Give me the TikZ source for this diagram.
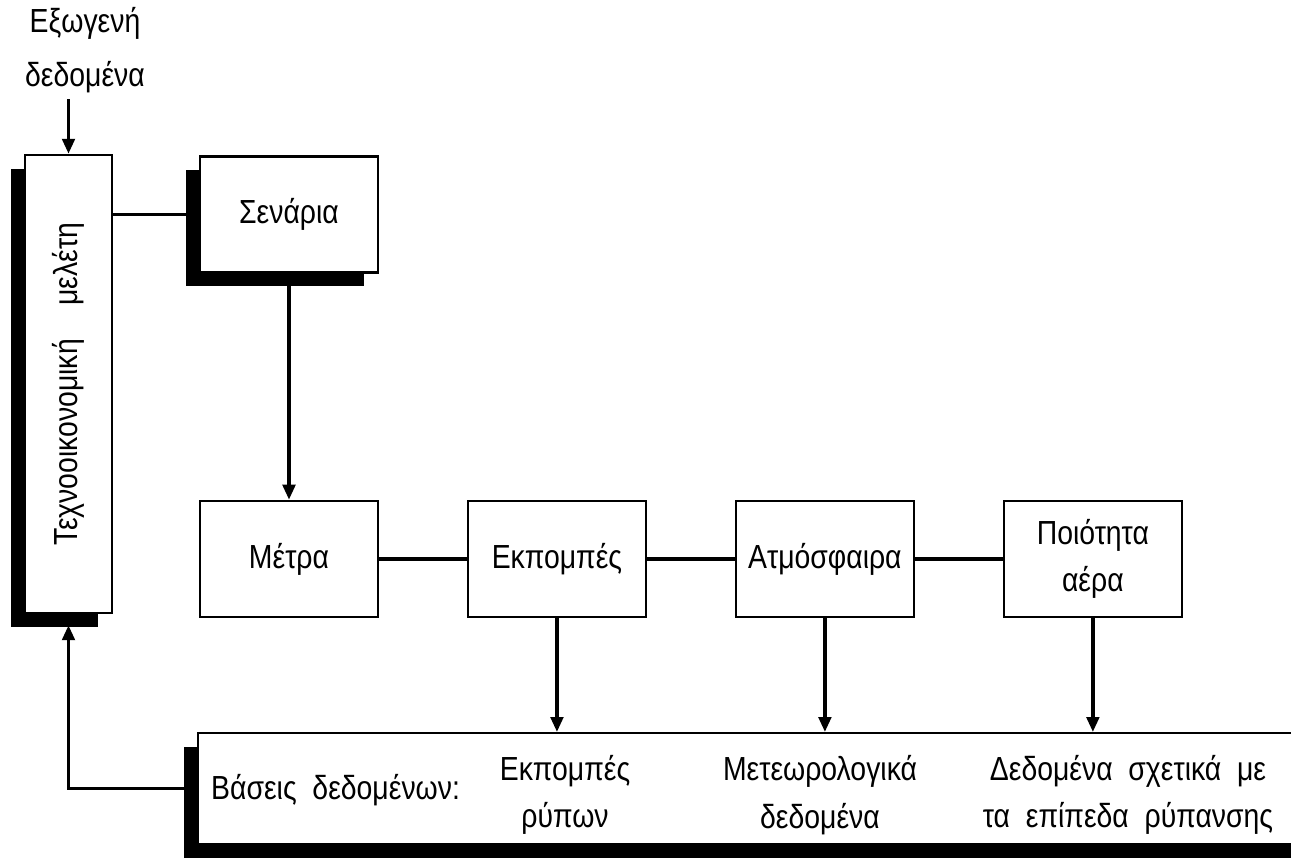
\documentclass[tikz,border=0pt]{standalone}
\usepackage{fontspec}
\setmainfont{Liberation Sans}[FakeStretch=0.85]
\usetikzlibrary{positioning,shadows,arrows.meta}

\begin{document}
\begin{tikzpicture}[
  node distance=1.75cm,
  every node/.style={font=\fontsize{19}{27}\selectfont},
  box/.style={draw, line width=1.4pt, rectangle, minimum width=3.56cm, minimum height=2.32cm, align=center, fill=white},
  shbox/.style={box, drop shadow={shadow xshift=-0.28cm, shadow yshift=-0.28cm, fill=black, opacity=1}},
  line/.style={line width=2pt},
  arrow/.style={line width=2pt, -{Triangle[length=0.3cm,width=0.25cm]}}
]
\useasboundingbox (0,0) rectangle (25.82,17.22);
\clip (0,0) rectangle (25.82,17.22);

\node[shbox, minimum width=1.74cm, minimum height=9.16cm] (tech) at (1.37,9.54) {\rotatebox{90}{Τεχνοοικονομική\quad μελέτη}};
\node[align=center, font=\fontsize{19}{31}\selectfont] (exo) at (1.70,16.22) {Εξωγενή\\δεδομένα};

\node[shbox] (senaria) at (5.78,12.93) {Σενάρια};
\node[box, below=4.52cm of senaria] (metra) {Μέτρα};
\node[box, right=of metra] (ekp) {Εκπομπές};
\node[box, right=of ekp] (atm) {Ατμόσφαιρα};
\node[box, right=of atm] (poi) {Ποιότητα\\αέρα};

% databases
\node[shbox, minimum width=22.6cm, minimum height=2.22cm, anchor=north west] (db) at (3.94,2.58) {};
\node[anchor=west] (dbname) at (4.1,1.42) {Βάσεις\ \ δεδομένων:};
\node[align=center] (dbem) at (11.3,1.32) {Εκπομπές\\ρύπων};
\node[align=center] (dbmet) at (16.4,1.32) {Μετεωρολογικά\\δεδομένα};
\node[align=center] (dblev) at (22.56,1.32) {Δεδομένα\ \ σχετικά\ \ με\\τα\ \ επίπεδα\ \ ρύπανσης};

\draw[arrow] (tech.north |- exo.south) -- (tech.north);
\draw[line] (tech.east |- senaria.west) -- (senaria.west);
\draw[arrow] (senaria) -- (metra);
\draw[line] (metra) -- (ekp);
\draw[line] (ekp) -- (atm);
\draw[line] (atm) -- (poi);
\draw[arrow] (ekp) -- (ekp |- db.north);
\draw[arrow] (atm) -- (atm |- db.north);
\draw[arrow] (poi) -- (poi |- db.north);
\draw[arrow] (db.west) -| ([yshift=-0.22cm]tech.south);
\end{tikzpicture}
\end{document}
